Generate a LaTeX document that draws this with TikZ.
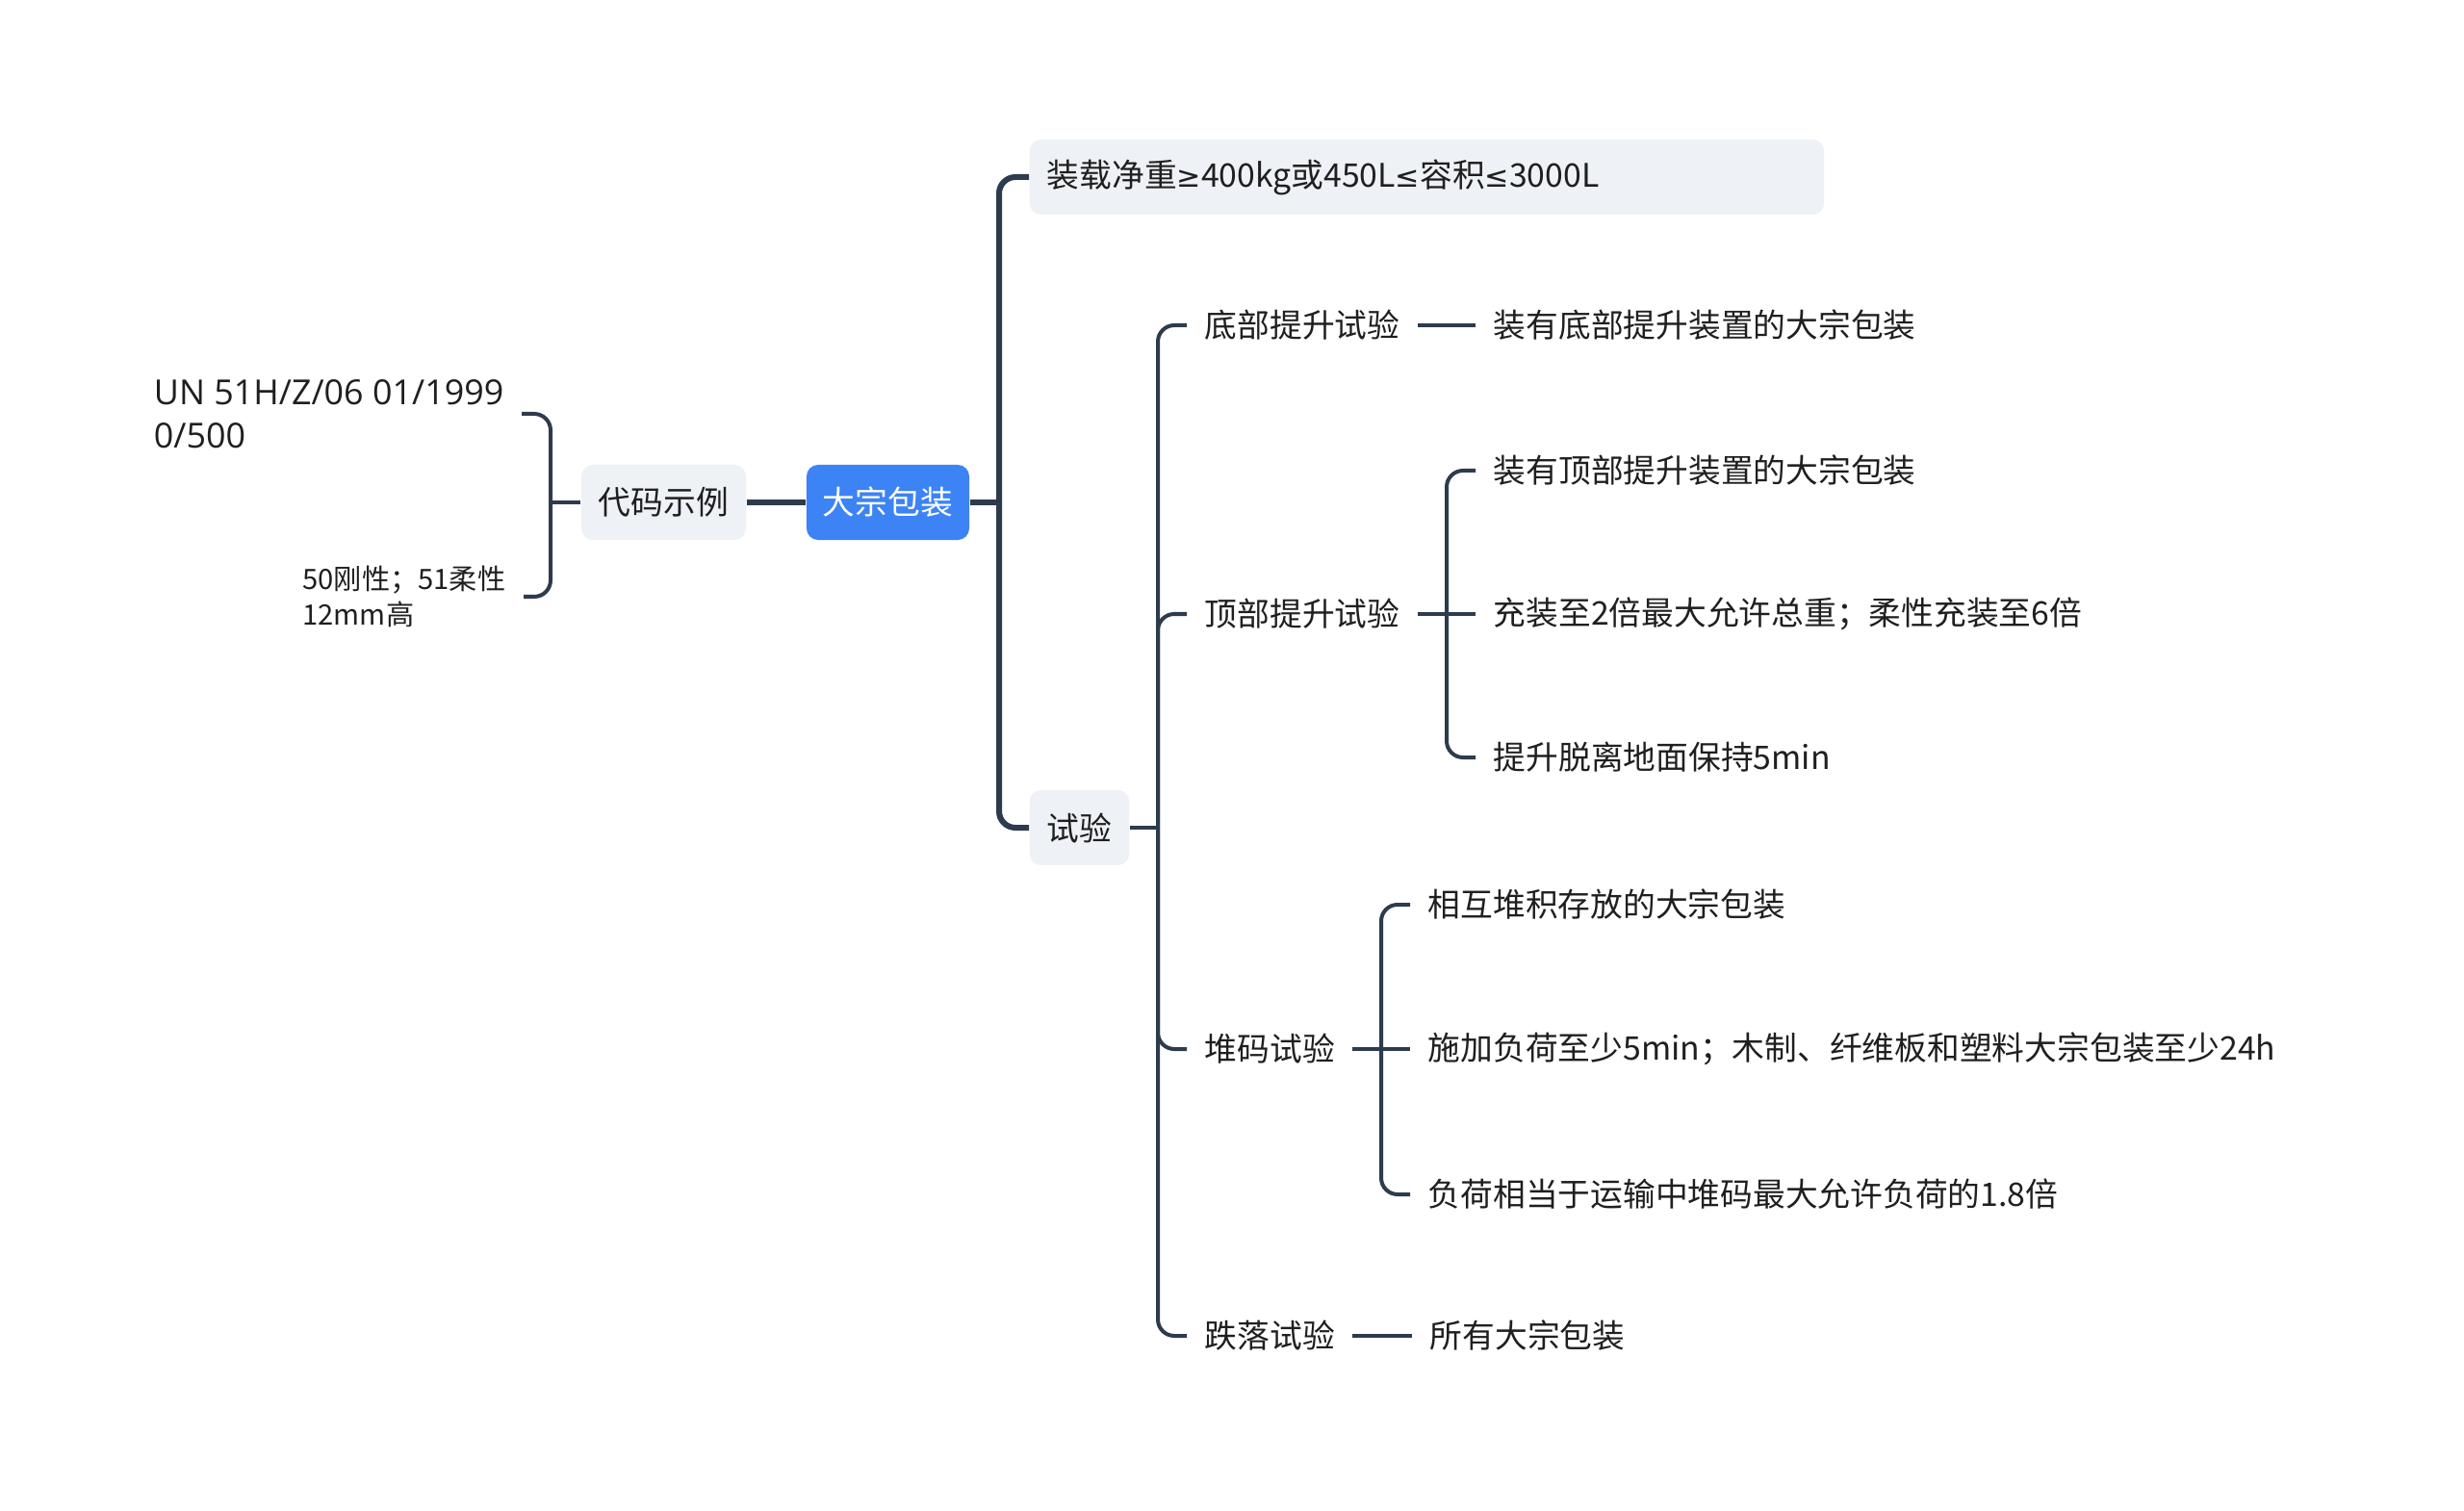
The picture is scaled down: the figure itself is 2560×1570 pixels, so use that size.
\documentclass[tikz,border=0pt]{standalone}
\usepackage{fontspec}
\setmainfont{Noto Sans CJK SC}
\newfontfamily\latinfont{Open Sans}
\newfontfamily\symfont{DejaVu Sans}
\usetikzlibrary{positioning,calc}
\definecolor{linkgrey}{HTML}{2E3B4E}
\definecolor{rootblue}{HTML}{3C83F6}
\definecolor{boxgrey}{HTML}{EEF1F5}
\definecolor{inkblack}{HTML}{1F1F1F}
\newcommand{\geqsym}{{\symfont\fontsize{8.6}{12}\selectfont ≥}}
\newcommand{\leqsym}{{\symfont\fontsize{8.6}{12}\selectfont ≤}}
\tikzset{
  root/.style  = {fill=rootblue, text=white, rounded corners=0.12cm, minimum height=0.78cm,
                  inner xsep=0.17cm, font=\fontsize{9.6}{12}\selectfont},
  topic/.style = {fill=boxgrey, text=inkblack, rounded corners=0.12cm, minimum height=0.78cm,
                  inner xsep=0.18cm, font=\fontsize{9.6}{12}\selectfont},
  item/.style  = {text=inkblack, inner xsep=0.18cm, inner ysep=2pt, font=\fontsize{9.6}{12.6}\selectfont},
  note/.style  = {item, align=left, font=\fontsize{8.3}{10.6}\selectfont},
  trunk/.style = {draw=linkgrey, line width=0.06cm, rounded corners=0.17cm},
  link/.style  = {draw=linkgrey, line width=0.04cm, rounded corners=0.17cm},
}
\begin{document}
\begin{tikzpicture}[x=0.01cm, y=-0.01cm]
  \useasboundingbox (0,0) rectangle (2560,1570);
  % centre and left side
  \node[root] (pack) at (922.5,522) {大宗包装};
  \node[topic] (code) at (689.5,522) {代码示例};
  \node[item, anchor=east, align=left, font=\fontsize{10.2}{12.9}\latinfont] (un) at (542,430) {UN 51H/Z/06 01/1999\\0/500};
  \node[note, anchor=east] (mark) at (544,620) {50刚性；51柔性\\12mm高};
  \coordinate (codej) at (572,522);
  \draw[trunk] (code.east) -- (pack.west);
  \draw[link] (code.west) -- (codej);
  \draw[link] (un.east) -| (codej);
  \draw[link] (mark.east) -| (codej);
  % right side
  \coordinate (packj) at (1038,522);
  \node[topic, anchor=west, text width=7.89cm, align=left] (limit) at (1069,184) {装载净重\geqsym{}400kg或450L\leqsym{}容积\leqsym{}3000L};
  \node[topic, anchor=west] (test) at (1069,860) {试验};
  \draw[trunk] (pack.east) -- (packj);
  \draw[trunk] (limit.west) -| (packj);
  \draw[trunk] (test.west) -| (packj);
  % tests
  \coordinate (testj) at (1203,860);
  \node[item, anchor=west] (lift1) at (1233,338) {底部提升试验};
  \node[item, anchor=west] (lift2) at (1233,638) {顶部提升试验};
  \node[item, anchor=west] (stack) at (1233,1090) {堆码试验};
  \node[item, anchor=west] (drop) at (1233,1388) {跌落试验};
  \draw[link] (test.east) -- (testj);
  \foreach \n in {lift1,lift2,stack,drop}
    \draw[link] (\n.west) -| (testj);
  % bottom lift
  \node[item, anchor=west] (lift1a) at (1533,338) {装有底部提升装置的大宗包装};
  \draw[link] (lift1.east) -- (lift1a.west);
  % top lift
  \coordinate (lift2j) at (1503,638);
  \node[item, anchor=west] (lift2a) at (1533,489) {装有顶部提升装置的大宗包装};
  \node[item, anchor=west] (lift2b) at (1533,638) {充装至2倍最大允许总重；柔性充装至6倍};
  \node[item, anchor=west] (lift2c) at (1533,787) {提升脱离地面保持5min};
  \draw[link] (lift2.east) -- (lift2b.west);
  \draw[link] (lift2a.west) -| (lift2j);
  \draw[link] (lift2c.west) -| (lift2j);
  % stacking
  \coordinate (stackj) at (1435,1090);
  \node[item, anchor=west] (stacka) at (1465,940) {相互堆积存放的大宗包装};
  \node[item, anchor=west] (stackb) at (1465,1090) {施加负荷至少5min；木制、纤维板和塑料大宗包装至少24h};
  \node[item, anchor=west] (stackc) at (1465,1241) {负荷相当于运输中堆码最大允许负荷的1.8倍};
  \draw[link] (stack.east) -- (stackb.west);
  \draw[link] (stacka.west) -| (stackj);
  \draw[link] (stackc.west) -| (stackj);
  % drop
  \node[item, anchor=west] (dropa) at (1467,1388) {所有大宗包装};
  \draw[link] (drop.east) -- (dropa.west);
\end{tikzpicture}
\end{document}
